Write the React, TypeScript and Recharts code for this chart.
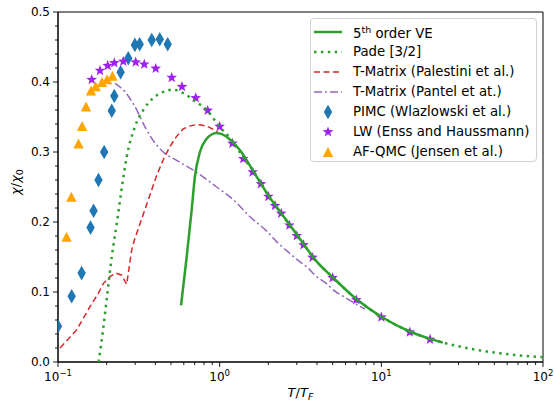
import React from "react";
import { ComposedChart, Line, Scatter, XAxis, YAxis, ReferenceArea, Legend } from "recharts";

// 5th order virial expansion
const veT = [0.577, 0.625, 0.671, 0.703, 0.755, 0.831, 0.892, 0.955, 1.1, 1.2, 1.34, 1.6, 2.0, 2.5, 3.0, 4.0, 5.0, 7.0, 10, 15, 20, 24];
const veChi = [0.081, 0.15, 0.217, 0.265, 0.3, 0.319, 0.325, 0.327, 0.322, 0.314, 0.302, 0.274, 0.238, 0.207, 0.182, 0.143, 0.121, 0.09, 0.0647, 0.0436, 0.033, 0.0277];

// Pade [3/2]
const padeT = [0.1785, 0.19, 0.2, 0.215, 0.231, 0.245, 0.266, 0.299, 0.337, 0.388, 0.448, 0.516, 0.595, 0.703, 0.831, 1.0, 1.21, 1.4, 1.6, 2.0, 2.5, 3.0, 4.0, 5.0, 7.0, 10, 15, 20, 25, 35, 50, 70, 100];
const padeChi = [0, 0.046, 0.089, 0.15, 0.198, 0.24, 0.293, 0.336, 0.36, 0.377, 0.386, 0.389, 0.384, 0.373, 0.36, 0.336, 0.315, 0.292, 0.274, 0.238, 0.207, 0.182, 0.143, 0.121, 0.09, 0.0647, 0.0436, 0.033, 0.0268, 0.0192, 0.0135, 0.0096, 0.0067];

// T-Matrix (Palestini et al.)
const palT = [0.103, 0.1305, 0.1577, 0.1775, 0.1906, 0.2097, 0.2284, 0.2477, 0.266, 0.2856, 0.2965, 0.345, 0.41, 0.45, 0.493, 0.54, 0.595, 0.65, 0.714, 0.77, 0.831, 0.9, 0.976];
const palChi = [0.02, 0.046, 0.079, 0.098, 0.112, 0.122, 0.127, 0.124, 0.111, 0.16, 0.174, 0.218, 0.268, 0.29, 0.308, 0.322, 0.333, 0.337, 0.339, 0.3385, 0.337, 0.333, 0.328];

// T-Matrix (Pantel et al.)
const panT = [0.2252, 0.2597, 0.299, 0.345, 0.38, 0.448, 0.542, 0.687, 0.958, 1.213, 1.54, 1.953, 2.25, 2.72, 3.14, 3.45, 3.98, 4.59, 5.04, 6.1, 7.92];
const panChi = [0.398, 0.386, 0.365, 0.336, 0.3195, 0.3, 0.288, 0.274, 0.25, 0.232, 0.2076, 0.187, 0.172, 0.155, 0.143, 0.136, 0.122, 0.112, 0.103, 0.091, 0.0755];

// PIMC (Wlazlowski et al.)
const pimcT = [0.1, 0.1215, 0.14, 0.159, 0.166, 0.178, 0.193, 0.215, 0.223, 0.244, 0.272, 0.299, 0.32, 0.38, 0.426, 0.477];
const pimcChi = [0.051, 0.094, 0.127, 0.192, 0.216, 0.26, 0.3, 0.359, 0.38, 0.414, 0.434, 0.453, 0.454, 0.46, 0.461, 0.454];

// LW (Enss and Haussmann)
const lwT = [0.1616, 0.1818, 0.2029, 0.223, 0.2534, 0.3023, 0.3418, 0.4021, 0.505, 0.5847, 0.7106, 0.8429, 1.0, 1.2, 1.4, 1.6, 1.8, 2.0, 2.2, 2.4, 2.7, 3.0, 3.3, 3.75, 5.0, 7.0, 10, 15, 20];
const lwChi = [0.404, 0.417, 0.424, 0.428, 0.43, 0.429, 0.426, 0.42, 0.407, 0.394, 0.378, 0.36, 0.337, 0.313, 0.291, 0.272, 0.255, 0.237, 0.224, 0.213, 0.196, 0.181, 0.168, 0.15, 0.121, 0.0896, 0.0647, 0.0433, 0.0329];

// AF-QMC (Jensen et al.)
const afT = [0.113, 0.121, 0.134, 0.141, 0.149, 0.16, 0.171, 0.187, 0.201, 0.217];
const afChi = [0.179, 0.236, 0.312, 0.337, 0.365, 0.388, 0.394, 0.4, 0.404, 0.409];

const xTicks = [0.1, 0.2, 0.3, 0.4, 0.5, 0.6, 0.7, 0.8, 0.9, 1, 2, 3, 4, 5, 6, 7, 8, 9, 10, 20, 30, 40, 50, 60, 70, 80, 90, 100];
const xMajor = [0.1, 1, 10, 100];
const xExponents = ["\u22121", "0", "1", "2"];
const yTicks = [0, 0.02, 0.04, 0.06, 0.08, 0.1, 0.12, 0.14, 0.16, 0.18, 0.2, 0.22, 0.24, 0.26, 0.28, 0.3, 0.32, 0.34, 0.36, 0.38, 0.4, 0.42, 0.44, 0.46, 0.48, 0.5];
const yMajor = [0, 0.1, 0.2, 0.3, 0.4, 0.5];
const yLabels = ["0.0", "0.1", "0.2", "0.3", "0.4", "0.5"];

const GREEN = "#2ca02c";
const RED = "#d62728";
const LILAC = "#9467bd";
const BLUE = "#1f77b4";
const VIOLET = "#a020f0";
const ORANGE = "#ffa500";
const FONT = "'DejaVu Sans', sans-serif";

const pts = (xs: number[], ys: number[]) => xs.map((x, i) => ({ x, y: ys[i] }));

const XTick = (props: any) => {
  const { x, y, payload } = props;
  const idx = xMajor.indexOf(payload.value);
  const major = idx >= 0;
  return (
    <g>
      <line x1={x} x2={x} y1={y} y2={y + (major ? 5 : 3)} stroke="#000" strokeWidth={0.9} />
      {major && (
        <text x={x} y={y + 19} textAnchor="middle" fontSize={12} fontFamily={FONT} fill="#000">
          10<tspan fontSize={8.5} dy={-5}>{xExponents[idx]}</tspan>
        </text>
      )}
    </g>
  );
};

const YTick = (props: any) => {
  const { x, y, payload } = props;
  const idx = yMajor.indexOf(payload.value);
  const major = idx >= 0;
  return (
    <g>
      <line x1={x} x2={x - (major ? 5 : 3)} y1={y} y2={y} stroke="#000" strokeWidth={0.9} />
      {major && (
        <text x={x - 8} y={y + 4.3} textAnchor="end" fontSize={12} fontFamily={FONT} fill="#000">
          {yLabels[idx]}
        </text>
      )}
    </g>
  );
};

const Diamond = (props: any) => {
  const { cx, cy } = props;
  return <path d={`M${cx},${cy - 7.3} L${cx + 4.2},${cy} L${cx},${cy + 7.3} L${cx - 4.2},${cy} Z`} fill={BLUE} />;
};

const starPath = (cx: number, cy: number, r: number) => {
  let d = "";
  for (let i = 0; i < 10; i++) {
    const rr = i % 2 === 0 ? r : r * 0.42;
    const a = (Math.PI / 5) * i - Math.PI / 2;
    d += `${i === 0 ? "M" : "L"}${cx + rr * Math.cos(a)},${cy + rr * Math.sin(a)} `;
  }
  return d + "Z";
};

const Star = (props: any) => <path d={starPath(props.cx, props.cy + 0.5, 5.6)} fill={VIOLET} />;

const Tri = (props: any) => {
  const { cx, cy } = props;
  return <path d={`M${cx},${cy - 5} L${cx + 5.2},${cy + 5} L${cx - 5.2},${cy + 5} Z`} fill={ORANGE} />;
};

const legendRows = [
  { key: "ve", icon: <line x1={3} x2={31} y1={10} y2={10} stroke={GREEN} strokeWidth={2.5} />, text: <>5<sup style={{ fontSize: 9.5 }}>th</sup> order VE</> },
  { key: "pade", icon: <line x1={3} x2={31} y1={10} y2={10} stroke={GREEN} strokeWidth={2.5} strokeDasharray="2.5 4.4" />, text: <>Pade [3/2]</> },
  { key: "pal", icon: <line x1={3} x2={31} y1={10} y2={10} stroke={RED} strokeWidth={1.5} strokeDasharray="6 3.5" />, text: <>T-Matrix (Palestini et al.)</> },
  { key: "pan", icon: <line x1={3} x2={31} y1={10} y2={10} stroke={LILAC} strokeWidth={1.5} strokeDasharray="8 3 2 3" />, text: <>T-Matrix (Pantel et at.)</> },
  { key: "pimc", icon: <Diamond cx={17} cy={10} />, text: <>PIMC (Wlazlowski et al.)</> },
  { key: "lw", icon: <Star cx={17} cy={9.5} />, text: <>LW (Enss and Haussmann)</> },
  { key: "af", icon: <Tri cx={17} cy={10} />, text: <>AF-QMC (Jensen et al.)</> },
];

const LegendBox = () => (
  <div
    style={{
      boxSizing: "border-box",
      width: 227,
      height: 144,
      padding: "3px 0 0 0",
      background: "rgba(255,255,255,0.8)",
      border: "1px solid #d0d0d0",
      borderRadius: 4,
      fontFamily: FONT,
      fontSize: 13.3,
      color: "#000",
    }}
  >
    {legendRows.map((r) => (
      <div key={r.key} style={{ display: "flex", alignItems: "center", height: 20 }}>
        <svg width={42} height={20} style={{ flex: "none" }}>
          {r.icon}
        </svg>
        <span style={{ whiteSpace: "nowrap", lineHeight: "20px" }}>{r.text}</span>
      </div>
    ))}
  </div>
);

const XLabel = (props: any) => {
  const { viewBox } = props;
  const cx = viewBox.x + viewBox.width / 2;
  return (
    <text x={cx} y={viewBox.y + 35} textAnchor="middle" fontSize={13} fontFamily={FONT} fill="#000">
      <tspan fontStyle="italic">T</tspan>/<tspan fontStyle="italic">T</tspan>
      <tspan fontStyle="italic" fontSize={9.5} dy={3}>F</tspan>
    </text>
  );
};

const YLabel = (props: any) => {
  const { viewBox } = props;
  const cy = viewBox.y + viewBox.height / 2 - 5;
  return (
    <text x={0} y={0} transform={`translate(20,${cy}) rotate(-90)`} textAnchor="middle" fontSize={13} fontFamily={FONT} fill="#000">
      <tspan fontStyle="italic">{"\u03c7"}</tspan>/<tspan fontStyle="italic">{"\u03c7"}</tspan>
      <tspan fontSize={9.5} dy={3}>0</tspan>
    </text>
  );
};

export default function App() {
  return (
    <div style={{ position: "absolute", left: 0, top: 0, background: "#fff" }}>
      <ComposedChart width={555} height={403} margin={{ top: 12, right: 12, left: 0, bottom: 0 }}>
        <XAxis
          type="number"
          dataKey="x"
          scale="log"
          domain={[0.1, 100]}
          allowDataOverflow
          ticks={xTicks}
          interval={0}
          tick={<XTick />}
          tickLine={false}
          tickSize={0}
          tickMargin={0}
          height={41}
          axisLine={{ stroke: "#000", strokeWidth: 1 }}
          label={<XLabel />}
        />
        <YAxis
          type="number"
          dataKey="y"
          domain={[0, 0.5]}
          allowDataOverflow
          ticks={yTicks}
          interval={0}
          tick={<YTick />}
          tickLine={false}
          tickSize={0}
          tickMargin={0}
          width={58}
          axisLine={{ stroke: "#000", strokeWidth: 1 }}
          label={<YLabel />}
        />
        <Scatter name="PIMC (Wlazlowski et al.)" data={pts(pimcT, pimcChi)} shape={<Diamond />} isAnimationActive={false} />
        <Scatter name="LW (Enss and Haussmann)" data={pts(lwT, lwChi)} shape={<Star />} isAnimationActive={false} />
        <Scatter name="AF-QMC (Jensen et al.)" data={pts(afT, afChi)} shape={<Tri />} isAnimationActive={false} />
        <Line name="T-Matrix (Pantel et at.)" data={pts(panT, panChi)} dataKey="y" type="monotone" stroke={LILAC} strokeWidth={1.5} strokeDasharray="8 3 2 3" dot={false} isAnimationActive={false} zIndex={650} />
        <Line name="T-Matrix (Palestini et al.)" data={pts(palT, palChi)} dataKey="y" type="linear" stroke={RED} strokeWidth={1.5} strokeDasharray="6 3.5" dot={false} isAnimationActive={false} zIndex={660} />
        <Line name="Pade [3/2]" data={pts(padeT, padeChi)} dataKey="y" type="monotone" stroke={GREEN} strokeWidth={2.5} strokeDasharray="2.5 4.4" dot={false} isAnimationActive={false} zIndex={670} />
        <Line name="5th order VE" data={pts(veT, veChi)} dataKey="y" type="monotone" stroke={GREEN} strokeWidth={2.5} dot={false} isAnimationActive={false} zIndex={680} />
        <ReferenceArea x1={0.1} x2={100} y1={0} y2={0.5} fill="none" stroke="#000" strokeWidth={1} ifOverflow="visible" />
        <Legend
          layout="horizontal"
          verticalAlign="middle"
          align="center"
          content={<LegendBox />}
          wrapperStyle={{ left: 310, top: 18, width: 227, height: 144 }}
        />
      </ComposedChart>
    </div>
  );
}
